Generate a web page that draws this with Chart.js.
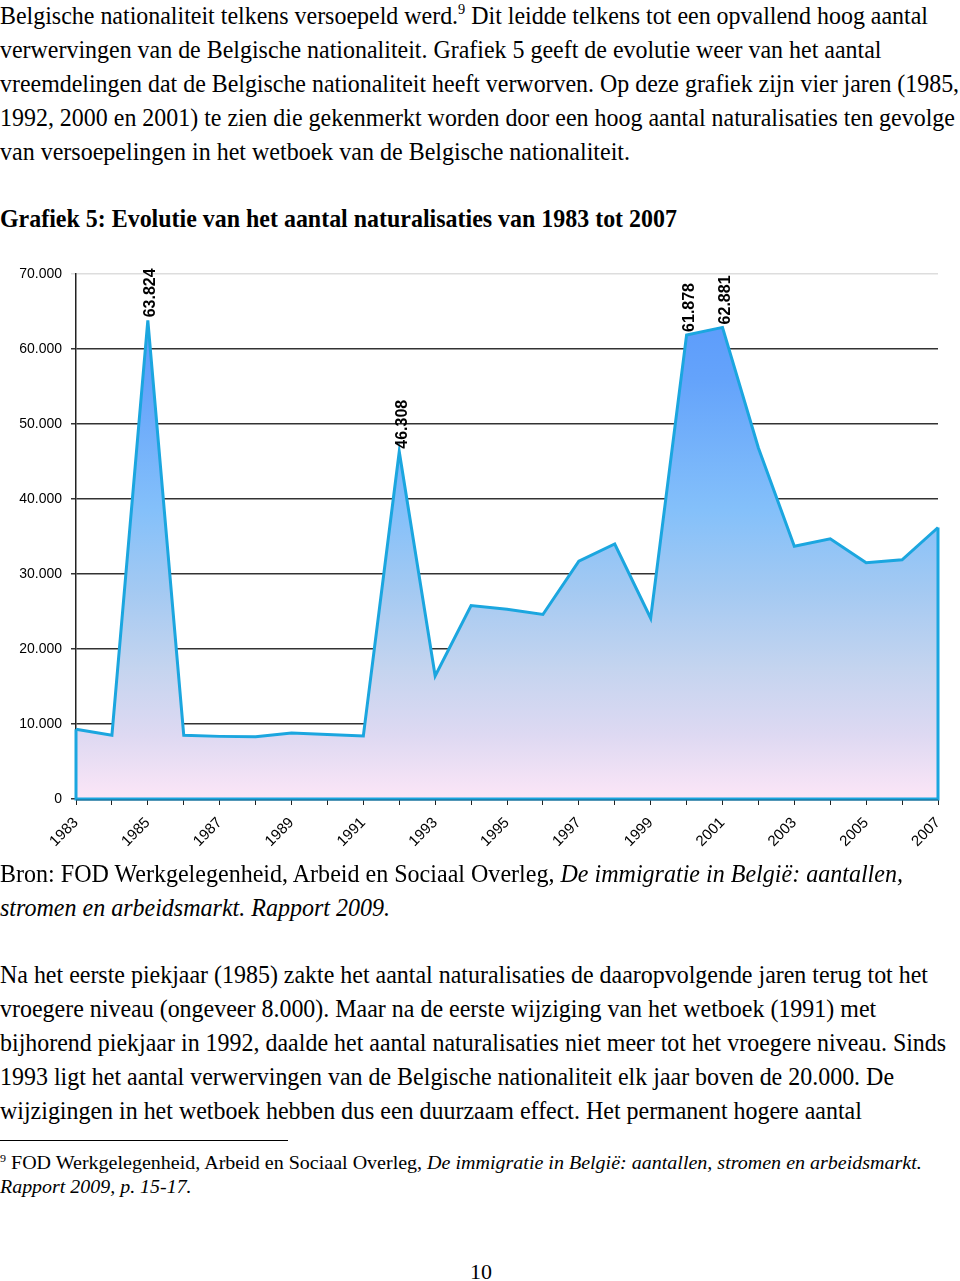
<!DOCTYPE html>
<html>
<head>
<meta charset="utf-8">
<script src="https://cdn.jsdelivr.net/npm/chart.js@4/dist/chart.umd.min.js"></script>
<style>
  body { margin: 0; background: #fff; width: 960px; height: 1281px; position: relative; overflow: hidden; }
  .ln { position: absolute; left: 0; height: 34px; line-height: 34px; white-space: nowrap;
        font-family: "Liberation Serif", "Times New Roman", serif; font-size: 25px; color: #000;
        transform-origin: left center; }
  .ft { font-size: 19px; height: 24px; line-height: 24px; }
  sup { font-size: 0.6em; line-height: 0; vertical-align: 0.65em; }
  #chartBox { position: absolute; left: 0; top: 240px; }
  #rule { position: absolute; left: 0; top: 1140px; width: 288px; height: 1px; background: #000; }
</style>
</head>
<body>
<div class="ln" data-w="928" style="top:-1px">Belgische nationaliteit telkens versoepeld werd.<sup>9</sup> Dit leidde telkens tot een opvallend hoog aantal</div>
<div class="ln" data-w="881" style="top:33px">verwervingen van de Belgische nationaliteit. Grafiek 5 geeft de evolutie weer van het aantal</div>
<div class="ln" data-w="959" style="top:67px">vreemdelingen dat de Belgische nationaliteit heeft verworven. Op deze grafiek zijn vier jaren (1985,</div>
<div class="ln" data-w="955" style="top:101px">1992, 2000 en 2001) te zien die gekenmerkt worden door een hoog aantal naturalisaties ten gevolge</div>
<div class="ln" data-w="630" style="top:135px">van versoepelingen in het wetboek van de Belgische nationaliteit.</div>
<div class="ln" data-w="677" style="top:202px;font-weight:bold">Grafiek 5: Evolutie van het aantal naturalisaties van 1983 tot 2007</div>

<div id="chartBox"><canvas id="naturChart" width="960" height="620"></canvas></div>

<div class="ln" data-w="903" style="top:857px">Bron: FOD Werkgelegenheid, Arbeid en Sociaal Overleg, <i>De immigratie in België: aantallen,</i></div>
<div class="ln" data-w="390" style="top:891px"><i>stromen en arbeidsmarkt. Rapport 2009.</i></div>
<div class="ln" data-w="928" style="top:958px">Na het eerste piekjaar (1985) zakte het aantal naturalisaties de daaropvolgende jaren terug tot het</div>
<div class="ln" data-w="876" style="top:992px">vroegere niveau (ongeveer 8.000). Maar na de eerste wijziging van het wetboek (1991) met</div>
<div class="ln" data-w="946" style="top:1026px">bijhorend piekjaar in 1992, daalde het aantal naturalisaties niet meer tot het vroegere niveau. Sinds</div>
<div class="ln" data-w="894" style="top:1060px">1993 ligt het aantal verwervingen van de Belgische nationaliteit elk jaar boven de 20.000. De</div>
<div class="ln" data-w="862" style="top:1094px">wijzigingen in het wetboek hebben dus een duurzaam effect. Het permanent hogere aantal</div>
<div id="rule"></div>
<div class="ln ft" data-w="922" style="top:1151px"><sup>9</sup> FOD Werkgelegenheid, Arbeid en Sociaal Overleg, <i>De immigratie in België: aantallen, stromen en arbeidsmarkt.</i></div>
<div class="ln ft" data-w="192" style="top:1175px"><i>Rapport 2009, p. 15-17.</i></div>
<div class="ln" style="top:1255px;left:470px;font-size:22px">10</div>

<script>
  // fit each text line to the width it has in the scanned page
  document.querySelectorAll('.ln[data-w]').forEach(function (el) {
    var target = +el.getAttribute('data-w');
    var w = el.scrollWidth;
    if (w > 0) el.style.transform = 'scaleX(' + (target / w) + ')';
  });

  const years = ['1983', '1984', '1985', '1986', '1987', '1988', '1989', '1990', '1991', '1992',
    '1993', '1994', '1995', '1996', '1997', '1998', '1999', '2000', '2001', '2002',
    '2003', '2004', '2005', '2006', '2007'];
  const naturalisaties = [9300, 8500, 63824, 8500, 8350, 8300, 8800, 8600, 8400, 46308,
    16400, 25800, 25300, 24600, 31700, 34000, 24100, 61878, 62881, 46800,
    33700, 34700, 31500, 31900, 36200];
  const labelledYears = ['1985', '1992', '2000', '2001'];

  function fmt(v) {
    return String(Math.round(v)).replace(/\B(?=(\d{3})+(?!\d))/g, '.');
  }

  const lineBlue = '#1ba6df';

  const peakLabels = {
    id: 'peakLabels',
    afterDatasetsDraw(chart) {
      const c = chart.ctx;
      const xs = chart.scales.x, ys = chart.scales.y;
      const last = naturalisaties.length - 1;
      // edges of the area
      c.save();
      c.strokeStyle = lineBlue;
      c.lineWidth = 3;
      c.beginPath();
      c.moveTo(xs.getPixelForValue(0), ys.getPixelForValue(naturalisaties[0]));
      c.lineTo(xs.getPixelForValue(0), ys.getPixelForValue(0));
      c.lineTo(xs.getPixelForValue(last), ys.getPixelForValue(0));
      c.lineTo(xs.getPixelForValue(last), ys.getPixelForValue(naturalisaties[last]));
      c.stroke();
      c.strokeStyle = '#1f5f80';
      c.lineWidth = 1;
      c.beginPath();
      c.moveTo(xs.getPixelForValue(0), ys.getPixelForValue(0) + 1);
      c.lineTo(xs.getPixelForValue(last), ys.getPixelForValue(0) + 1);
      c.stroke();
      // rotated value labels
      c.fillStyle = '#000';
      c.font = 'bold 16px "Liberation Sans", Arial, sans-serif';
      c.textAlign = 'left';
      c.textBaseline = 'middle';
      labelledYears.forEach(function (y) {
        const i = years.indexOf(y);
        const px = xs.getPixelForValue(i);
        const py = ys.getPixelForValue(naturalisaties[i]);
        c.save();
        c.translate(px + 3, py - 3);
        c.rotate(-Math.PI / 2);
        c.fillText(fmt(naturalisaties[i]), 0, 0);
        c.restore();
      });
      c.restore();
    }
  };

  var ctx = document.getElementById('naturChart').getContext('2d');
  var naturChart = new Chart(ctx, {
    type: 'line',
    data: {
      labels: years,
      datasets: [{
        data: naturalisaties,
        borderColor: lineBlue,
        borderWidth: 3,
        pointRadius: 0,
        tension: 0,
        fill: 'origin',
        clip: 6,
        backgroundColor: function (context) {
          const chart = context.chart;
          const area = chart.chartArea;
          if (!area) return 'rgba(120,180,250,0.6)';
          const g = chart.ctx.createLinearGradient(0, area.top, 0, area.bottom);
          g.addColorStop(0, '#5797fb');
          g.addColorStop(0.2, '#64a3fb');
          g.addColorStop(0.45, '#84c0fa');
          g.addColorStop(0.6, '#a3c9f2');
          g.addColorStop(0.75, '#c4d4ef');
          g.addColorStop(0.88, '#ded9f2');
          g.addColorStop(1, '#fce6f7');
          return g;
        }
      }]
    },
    options: {
      responsive: false,
      animation: false,
      layout: { padding: { top: 34, right: 22, left: 0, bottom: 0 } },
      plugins: { legend: { display: false }, tooltip: { enabled: false } },
      scales: {
        x: {
          afterFit: function (s) { s.height = 61; },
          grid: { drawOnChartArea: false, drawTicks: true, tickLength: 6, color: '#222' },
          border: { color: '#222', width: 1 },
          ticks: {
            autoSkip: false,
            minRotation: 45,
            maxRotation: 45,
            padding: 9,
            color: '#000',
            font: { family: '"Liberation Sans", Arial, sans-serif', size: 15 },
            callback: function (v, i) { return i % 2 === 0 ? years[i] : ''; }
          }
        },
        y: {
          min: 0,
          max: 70000,
          afterFit: function (s) { s.width = 76; },
          grid: {
            tickLength: 5,
            lineWidth: 1.5,
            color: function (c) { return c.tick && c.tick.value === 70000 ? '#dddddd' : '#333333'; }
          },
          border: { color: '#222', width: 1.5 },
          ticks: {
            stepSize: 10000,
            padding: 9,
            color: '#000',
            font: { family: '"Liberation Sans", Arial, sans-serif', size: 14 },
            callback: function (v) { return fmt(v); }
          }
        }
      }
    },
    plugins: [peakLabels]
  });
</script>
</body>
</html>
